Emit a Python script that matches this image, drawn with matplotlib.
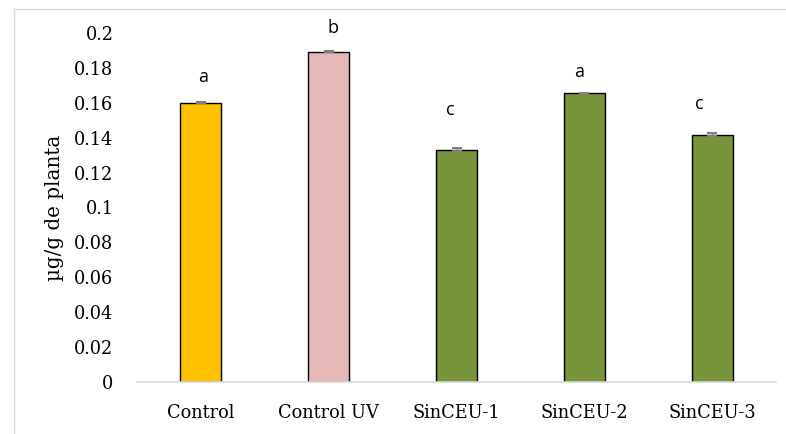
import matplotlib
matplotlib.use("Agg")
import matplotlib.pyplot as plt
from matplotlib.patches import Rectangle

# tratamientos y contenido medido
tratamientos = ["Control", "Control UV", "SinCEU-1", "SinCEU-2", "SinCEU-3"]
contenido = [0.160, 0.1893, 0.1332, 0.1655, 0.1417]
error = [0.0004, 0.0004, 0.0008, 0.0004, 0.0008]
letras = ["a", "b", "c", "a", "c"]
colores = ["#FFC000", "#E6B9B8", "#77933C", "#77933C", "#77933C"]

# desplazamiento vertical y horizontal de cada letra sobre su barra
dy_letra = [0.015, 0.0136, 0.0227, 0.0122, 0.0176]
dx_letra = [0.02, 0.03, -0.05, -0.04, -0.1]

serif = ["DejaVu Serif"]

fig = plt.figure(figsize=(7.86, 4.34), dpi=100)
ax = fig.add_axes([137/786, 1 - 382/434, (776 - 137)/786, (382 - 33)/434])

x = range(len(tratamientos))
ax.bar(x, contenido, width=0.32, color=colores, edgecolor="black", linewidth=1.0, zorder=2)
ax.errorbar(x, contenido, yerr=error, fmt="none", ecolor="#7f7f7f",
            elinewidth=1.0, capsize=3.6, capthick=1.5, zorder=3)

for i, (v, l) in enumerate(zip(contenido, letras)):
    ax.text(i + dx_letra[i], v + dy_letra[i], l, ha="center", va="center",
            fontsize=13, family=["Open Sans", "DejaVu Sans"], clip_on=False)

ax.set_xlim(-0.5, 4.5)
ax.set_ylim(0, 0.2)
ax.set_yticks([0, 0.02, 0.04, 0.06, 0.08, 0.1, 0.12, 0.14, 0.16, 0.18, 0.2])
ax.set_yticklabels(["0", "0.02", "0.04", "0.06", "0.08", "0.1", "0.12", "0.14",
                    "0.16", "0.18", "0.2"])
ax.set_xticks(list(x))
ax.set_xticklabels(tratamientos)
for lab in ax.get_xticklabels() + ax.get_yticklabels():
    lab.set_family(serif)
    lab.set_fontsize(12.8)
ax.tick_params(axis="y", length=0, pad=17)
ax.tick_params(axis="x", length=0, pad=16)

for s in ["top", "right", "left"]:
    ax.spines[s].set_visible(False)
ax.spines["bottom"].set_color("#d9d9d9")
ax.spines["bottom"].set_linewidth(1.2)

ax.set_ylabel("µg/g de planta", family=serif, fontsize=14.3)
ax.yaxis.set_label_coords(-0.114, 0.5)

# marco del gráfico
fig.patches.append(Rectangle((14/786, -0.1), 1.2, 1 - 9/434 + 0.1,
                             transform=fig.transFigure, fill=False,
                             edgecolor="#d9d9d9", linewidth=1.0))

fig.savefig("out.png", dpi=100)
